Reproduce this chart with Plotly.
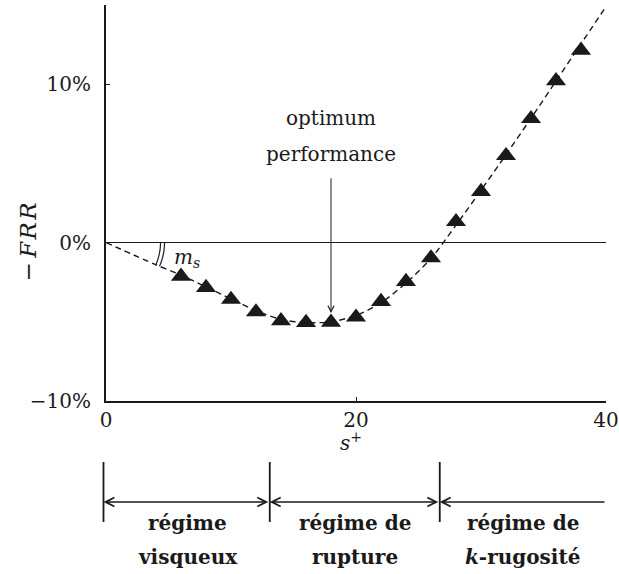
import numpy as np
import plotly.graph_objects as go

# ---- data ----
s_plus = [6, 8, 10, 12, 14, 16, 18, 20, 22, 24, 26, 28, 30, 32, 34, 36, 38]
frr = [-2.13, -2.84, -3.59, -4.38, -4.94, -5.05, -5.03, -4.71, -3.72, -2.46,
       -0.97, 1.32, 3.22, 5.49, 7.82, 10.21, 12.14]

curve_s = [0, 4, 6, 8, 10, 12, 14, 16, 18, 20, 22, 24, 26, 28, 30, 32, 34, 36, 38, 40]
curve_frr = [0, -1.4, -2.05, -2.8, -3.55, -4.3, -4.85, -5.05, -5.0, -4.6, -3.8, -2.55,
             -1.0, 1.1, 3.3, 5.55, 7.85, 10.2, 12.55, 14.9]

x_ticks = [0, 20, 40]
x_ticktext = ["0", "20", "40"]
y_ticks = [-10, 0, 10]
y_ticktext = ["\u221210%", "0%", "10%"]

regime_bounds = [-0.2, 13.1, 26.7, 40]
regime_line1 = ["régime", "régime de", "régime de"]
regime_line2 = ["visqueux", "rupture", "<i>k</i>-rugosité"]

optimum_s = 18
optimum_tip = -4.45
optimum_tail = 4.15

# ---- layout geometry ----
W, H = 619, 574
ML, MR, MT, MB = 106, 13, 5, 173
x_range = [0, 40]
y_range = [-10, 15]
plot_w = W - ML - MR
plot_h = H - MT - MB
px_per_x = plot_w / (x_range[1] - x_range[0])
px_per_y = plot_h / (y_range[1] - y_range[0])

def paper_y(py):
    return (H - MB - py) / plot_h

def paper_x(s):
    return (s - x_range[0]) / (x_range[1] - x_range[0])

FONT = "DejaVu Serif"
INK = "#1a1a1a"

fig = go.Figure()

fig.add_trace(go.Scatter(
    x=curve_s, y=curve_frr, mode="lines",
    line=dict(color=INK, width=1.4, dash="6px,4px", shape="spline", smoothing=0.8),
    hoverinfo="skip", showlegend=False, cliponaxis=False,
))
fig.add_trace(go.Scatter(
    x=s_plus, y=frr, mode="markers",
    marker=dict(symbol="triangle-up", size=17.5, color=INK, line=dict(width=0)),
    showlegend=False, cliponaxis=False,
))

annotations = []
shapes = []

# y title
annotations.append(dict(
    text="\u2212\u2009<i>F\u200aR\u200aR</i>", xref="paper", yref="y",
    x=(28 - ML) / plot_w, y=0,
    textangle=-90, showarrow=False, font=dict(family=FONT, size=23, color=INK),
    xanchor="center", yanchor="middle",
))
# x title
annotations.append(dict(
    text="<i>s</i><sup>+</sup>", xref="x", yref="paper", x=19.6, y=paper_y(442),
    showarrow=False, font=dict(family=FONT, size=20, color=INK),
    xanchor="center", yanchor="middle",
))

# optimum performance
annotations.append(dict(
    text="optimum", xref="x", yref="paper", x=optimum_s, y=paper_y(118),
    showarrow=False, font=dict(family=FONT, size=20, color=INK),
    xanchor="center", yanchor="middle",
))
annotations.append(dict(
    text="performance", xref="x", yref="paper", x=optimum_s, y=paper_y(154),
    showarrow=False, font=dict(family=FONT, size=20, color=INK),
    xanchor="center", yanchor="middle",
))
annotations.append(dict(
    text="", xref="x", yref="y", x=optimum_s, y=optimum_tip,
    axref="x", ayref="y", ax=optimum_s, ay=optimum_tail,
    showarrow=True, arrowhead=5, arrowsize=1.2, arrowwidth=1, arrowcolor=INK,
    standoff=0, startstandoff=0,
))

# m_s label and angle arcs
annotations.append(dict(
    text="<i>m<sub>s</sub></i>", xref="x", yref="y", x=5.3, y=-0.95,
    showarrow=False, font=dict(family=FONT, size=20, color=INK),
    xanchor="left", yanchor="middle",
))
slope0 = (curve_frr[1] - curve_frr[0]) / (curve_s[1] - curve_s[0])
ang = np.arctan(-slope0 * px_per_y / px_per_x)
for r in (54.5, 58.5):
    a = np.linspace(0, ang, 12)
    xs = r * np.cos(a) / px_per_x
    ys = -r * np.sin(a) / px_per_y
    path = "M " + " L ".join(f"{x:.4f},{y:.4f}" for x, y in zip(xs, ys))
    shapes.append(dict(type="path", xref="x", yref="y", path=path,
                       line=dict(color=INK, width=1.2)))

# regime markers
y_top, y_bot, y_arrow = paper_y(462), paper_y(522), paper_y(502)
for b in regime_bounds[:3]:
    shapes.append(dict(type="line", xref="paper", yref="paper",
                       x0=paper_x(b), x1=paper_x(b),
                       y0=y_top, y1=y_bot, line=dict(color=INK, width=1.8)))
for i in range(3):
    a0, a1 = regime_bounds[i], regime_bounds[i + 1]
    side = "end+start" if i < 2 else "end"
    annotations.append(dict(
        text="", xref="paper", yref="paper", x=paper_x(a0), y=y_arrow,
        axref="pixel", ayref="pixel", ax=(a1 - a0) * px_per_x, ay=0,
        showarrow=True, arrowhead=5, arrowsize=1.1, arrowwidth=1.6,
        arrowcolor=INK, arrowside=side, standoff=0, startstandoff=0,
    ))
    mid = (max(a0, 0) + a1) / 2
    annotations.append(dict(
        text=f"<b>{regime_line1[i]}</b>", xref="x", yref="paper", x=mid,
        y=paper_y(523), showarrow=False, font=dict(family=FONT, size=20, color=INK),
        xanchor="center", yanchor="middle",
    ))
    annotations.append(dict(
        text=f"<b>{regime_line2[i]}</b>", xref="x", yref="paper", x=mid,
        y=paper_y(557), showarrow=False, font=dict(family=FONT, size=20, color=INK),
        xanchor="center", yanchor="middle",
    ))

fig.update_layout(
    width=W, height=H,
    margin=dict(l=ML, r=MR, t=MT, b=MB, pad=0, autoexpand=False),
    paper_bgcolor="white", plot_bgcolor="white",
    font=dict(family=FONT, size=20, color=INK),
    annotations=annotations, shapes=shapes,
    showlegend=False,
)
fig.update_xaxes(
    range=x_range, tickvals=x_ticks, ticktext=x_ticktext, automargin=False,
    showline=True, linecolor=INK, linewidth=2, mirror=False,
    ticks="inside", ticklen=4, tickwidth=1.2, tickcolor=INK,
    showgrid=False, zeroline=False, ticklabelstandoff=0,
    tickfont=dict(family=FONT, size=20, color=INK),
)
fig.update_yaxes(
    range=y_range, tickvals=y_ticks, ticktext=y_ticktext, automargin=False,
    showline=True, linecolor=INK, linewidth=2, mirror=False,
    ticks="inside", ticklen=4, tickwidth=1.2, tickcolor=INK,
    showgrid=False, zeroline=True, zerolinecolor=INK, zerolinewidth=1.3,
    ticklabelstandoff=9,
    tickfont=dict(family=FONT, size=20, color=INK),
)

fig.write_html(
    "out.html",
    config={"displayModeBar": False},
    post_script="document.body.style.margin='0';document.body.style.overflow='hidden';",
)
